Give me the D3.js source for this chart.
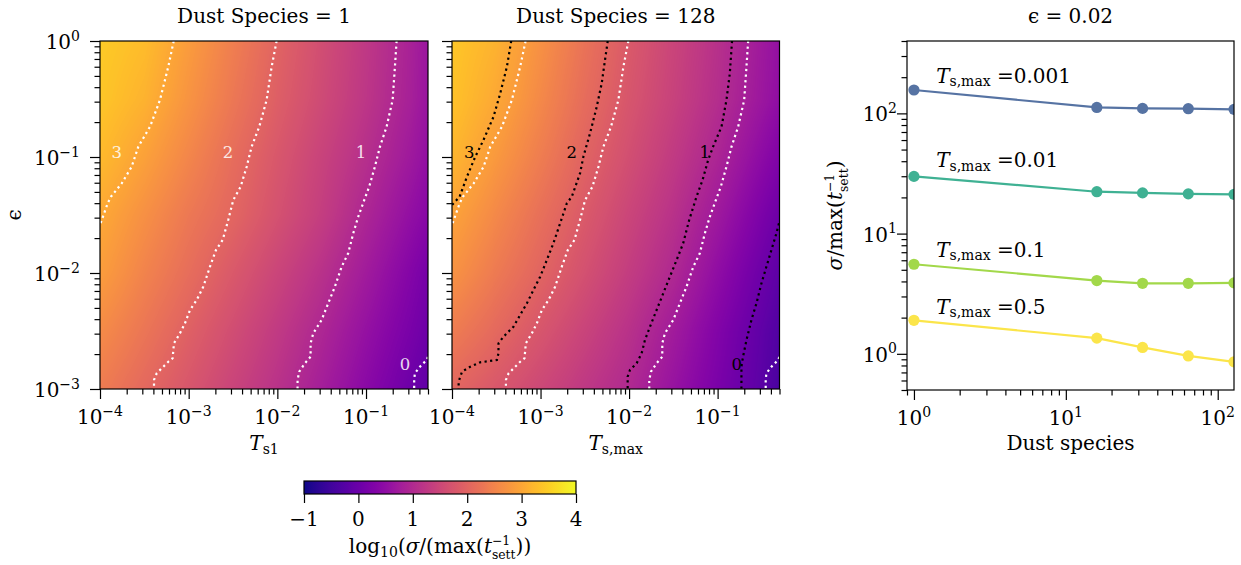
<!DOCTYPE html>
<html><head><meta charset="utf-8">
<script src="https://cdn.jsdelivr.net/npm/d3@7"></script>
<style>
body{margin:0;background:#fff}
svg{display:block}
text{font-family:"DejaVu Serif","Liberation Serif",serif;fill:#000;white-space:pre}
</style>
</head><body>
<svg id="c" width="1241" height="565"></svg>
<script>
// ---------------- DATA ----------------
// heat-map grid (log10 of T_s and of epsilon)
const tsExp  = [-4, -3.5, -3, -2.5, -2, -1.5, -1, -0.5, -0.3];
const epsExp = [0, -0.5, -1, -1.5, -2, -2.5, -3];
// log10(sigma / max(1/t_sett)), Dust Species = 1  (rows follow epsExp)
const grid1 = [
  [3.45, 3.28, 2.85, 2.42, 1.99, 1.62, 1.25, 0.86, 0.65],
  [3.40, 3.15, 2.73, 2.31, 1.91, 1.56, 1.21, 0.83, 0.62],
  [3.25, 2.92, 2.53, 2.14, 1.78, 1.43, 1.09, 0.71, 0.52],
  [3.03, 2.68, 2.32, 2.03, 1.68, 1.34, 0.93, 0.53, 0.38],
  [2.87, 2.49, 2.15, 1.81, 1.47, 1.13, 0.74, 0.33, 0.15],
  [2.61, 2.28, 1.94, 1.61, 1.28, 0.94, 0.56, 0.19, 0.03],
  [2.38, 2.07, 1.76, 1.45, 1.14, 0.79, 0.41, 0.03, -0.12]
];
// Dust Species = 128
const grid2 = [
  [3.40, 3.15, 2.70, 2.24, 1.83, 1.47, 1.12, 0.72, 0.55],
  [3.35, 3.02, 2.58, 2.14, 1.76, 1.42, 1.07, 0.67, 0.50],
  [3.20, 2.81, 2.40, 1.99, 1.64, 1.29, 0.92, 0.46, 0.28],
  [2.95, 2.57, 2.19, 1.83, 1.48, 1.14, 0.71, 0.23, 0.04],
  [2.72, 2.35, 2.01, 1.67, 1.33, 0.98, 0.50, 0.03, -0.16],
  [2.39, 2.08, 1.76, 1.45, 1.14, 0.75, 0.31, -0.13, -0.31],
  [2.04, 1.78, 1.52, 1.25, 0.99, 0.60, 0.21, -0.19, -0.40]
];
// contour lines: [log10 T, log10 eps]
const cont1 = {
  "3": [[-3.169,0],[-3.23,-0.222],[-3.324,-0.509],[-3.436,-0.739],[-3.568,-0.911],[-3.643,-1.084],[-3.755,-1.227],[-3.876,-1.342],[-3.913,-1.399],[-4.0,-1.586]],
  "2": [[-2.008,0],[-2.064,-0.222],[-2.121,-0.509],[-2.204,-0.739],[-2.29,-0.911],[-2.346,-1.084],[-2.414,-1.256],[-2.497,-1.371],[-2.554,-1.543],[-2.617,-1.716],[-2.692,-1.802],[-2.76,-1.946],[-2.835,-2.118],[-2.91,-2.233],[-2.985,-2.319],[-3.042,-2.434],[-3.098,-2.52],[-3.166,-2.606],[-3.181,-2.735],[-3.23,-2.765],[-3.286,-2.808],[-3.361,-2.865],[-3.391,-2.922],[-3.391,-3.0]],
  "1": [[-0.655,0],[-0.674,-0.222],[-0.7,-0.509],[-0.768,-0.739],[-0.843,-0.911],[-0.9,-1.084],[-0.964,-1.256],[-1.02,-1.371],[-1.088,-1.515],[-1.144,-1.658],[-1.201,-1.83],[-1.275,-1.946],[-1.351,-2.118],[-1.426,-2.261],[-1.501,-2.405],[-1.595,-2.52],[-1.625,-2.606],[-1.625,-2.722],[-1.689,-2.778],[-1.753,-2.851],[-1.772,-2.922],[-1.772,-3.0]],
  "0": [[-0.302,-2.724],[-0.317,-2.75],[-0.392,-2.808],[-0.449,-2.865],[-0.457,-2.922],[-0.457,-3.0]]
};
const cont2 = {
  "3": [[-3.331,0],[-3.38,-0.222],[-3.455,-0.451],[-3.531,-0.653],[-3.644,-0.853],[-3.737,-0.997],[-3.831,-1.17],[-3.914,-1.342],[-4.0,-1.414]],
  "2": [[-2.241,0],[-2.272,-0.164],[-2.309,-0.365],[-2.365,-0.566],[-2.441,-0.796],[-2.516,-0.997],[-2.554,-1.141],[-2.647,-1.342],[-2.703,-1.399],[-2.779,-1.572],[-2.855,-1.744],[-2.929,-1.888],[-3.004,-2.032],[-3.08,-2.147],[-3.154,-2.261],[-3.23,-2.362],[-3.306,-2.463],[-3.418,-2.549],[-3.475,-2.606],[-3.475,-2.692],[-3.493,-2.75],[-3.681,-2.77],[-3.794,-2.808],[-3.887,-2.851],[-3.925,-2.937],[-3.925,-3.0]],
  "1": [[-0.837,0],[-0.862,-0.278],[-0.9,-0.509],[-0.956,-0.739],[-1.051,-0.911],[-1.107,-1.026],[-1.17,-1.198],[-1.238,-1.342],[-1.321,-1.543],[-1.389,-1.744],[-1.463,-1.888],[-1.539,-2.032],[-1.614,-2.175],[-1.689,-2.319],[-1.764,-2.463],[-1.821,-2.578],[-1.858,-2.692],[-1.914,-2.778],[-1.99,-2.836],[-2.016,-2.894],[-2.016,-3.0]],
  "0": [[-0.307,-1.572],[-0.336,-1.658],[-0.392,-1.802],[-0.449,-1.946],[-0.505,-2.089],[-0.561,-2.261],[-0.618,-2.405],[-0.674,-2.578],[-0.713,-2.722],[-0.731,-2.808],[-0.731,-3.0]]
};
// contour label anchors [text, log10 T, log10 eps]
const labels1 = [["3",-3.81,-0.96],["2",-2.557,-0.96],["1",-1.057,-0.96],["0",-0.561,-2.79]];
const labels2 = [["3",-3.805,-0.96],["2",-2.647,-0.96],["1",-1.144,-0.96],["0",-0.784,-2.79]];

const panelTitles = ["Dust Species = 1", "Dust Species = 128"];
const cbarTicks = [-1, 0, 1, 2, 3, 4];
const cbarDomain = [-1, 4];

// right panel
const dustSpecies = [1, 16, 32, 64, 128];
const tsMaxLabels = ["0.001", "0.01", "0.1", "0.5"];
const sigmaTs0001 = [156.5, 112, 110, 109.4, 108];
const sigmaTs001  = [29.9, 22.3, 21.8, 21.4, 21.2];
const sigmaTs01   = [5.56, 4.07, 3.86, 3.86, 3.89];
const sigmaTs05   = [1.90, 1.35, 1.13, 0.96, 0.858];
const seriesColors = ["#5673a3", "#3fb193", "#a2d84a", "#fbe54a"];
const labelAnchorX = 1.4;
const labelAnchorY = [180, 35.6, 6.44, 2.15];

// ---------------- DRAWING ----------------
const svg = d3.select("#c");
const FS = 20;

function rich(g, segs, o) {
  const size = o.size || FS;
  const wrap = g.append("g").attr("transform", `translate(${o.x},${o.y})` + (o.rotate ? ` rotate(${o.rotate})` : ""));
  const txt = wrap.append("text").attr("font-size", size).attr("x", 0).attr("y", 0);
  if (o.fill) txt.style("fill", o.fill);
  if (o.opacity != null) txt.attr("opacity", o.opacity);
  let cur = 0, pend = 0;
  const sShift = { base: 0, sup: -0.42 * size, sub: 0.18 * size, ssup: -0.40 * size, ssub: 0.32 * size };
  function add(s, pos, it, dx, sc) {
    const t = sShift[pos];
    const ts = txt.append("tspan").attr("dy", t - cur).text(s);
    cur = t;
    if (pos !== "base") ts.attr("font-size", size * (sc || 0.7));
    if (it) ts.attr("font-style", "italic");
    if (dx) ts.attr("dx", dx);
    return ts;
  }
  segs.forEach(sg => {
    if (sg.stack) {
      const a = add(sg.stack[0], "ssup", false, pend, 0.62); pend = 0;
      const la = a.node().getComputedTextLength();
      const b = add(sg.stack[1], "ssub", false, -la, 0.62);
      const lb = b.node().getComputedTextLength();
      if (la > lb) pend = la - lb;
    } else {
      add(sg.t, sg.pos || "base", sg.i, pend); pend = 0;
    }
  });
  const bb = txt.node().getBBox();
  let sx = 0, sy = 0;
  if (o.anchor === "middle") sx = -(bb.x + bb.width / 2);
  else if (o.anchor === "end") sx = -(bb.x + bb.width);
  else sx = -bb.x;
  if (o.vcenter) sy = -(bb.y + bb.height / 2);
  txt.attr("transform", `translate(${sx},${sy})`);
  return wrap;
}

const expStr = v => { const e = Math.round(Math.log10(v)); return e < 0 ? "\u2212" + (-e) : "" + e; };
const isMaj = v => Math.abs(Math.log10(v) - Math.round(Math.log10(v))) < 1e-6;

function logAxes(g, x, y, P, o) {
  const inX = v => v >= x.domain()[0] * 0.999 && v <= x.domain()[1] * 1.001;
  const inY = v => v >= y.domain()[0] * 0.999 && v <= y.domain()[1] * 1.001;
  const xt = x.ticks().filter(inX), yt = y.ticks().filter(inY);
  const style = s => { s.select(".domain").remove(); s.selectAll("line").attr("stroke", "#000").attr("stroke-width", 1.2); };
  g.append("g").attr("transform", `translate(0,${P.y1})`).call(d3.axisBottom(x).tickValues(xt.filter(v => !isMaj(v))).tickSize(5.5).tickFormat("")).call(style);
  g.append("g").attr("transform", `translate(0,${P.y1})`).call(d3.axisBottom(x).tickValues(xt.filter(isMaj)).tickSize(10).tickFormat("")).call(style);
  g.append("g").attr("transform", `translate(${P.x0},0)`).call(d3.axisLeft(y).tickValues(yt.filter(v => !isMaj(v))).tickSize(5.5).tickFormat("")).call(style);
  g.append("g").attr("transform", `translate(${P.x0},0)`).call(d3.axisLeft(y).tickValues(yt.filter(isMaj)).tickSize(10).tickFormat("")).call(style);
  xt.filter(isMaj).forEach(v => rich(g, [{ t: "10" }, { t: expStr(v), pos: "sup" }], { x: x(v), y: P.y1 + 35, anchor: "middle" }));
  if (o.yLabels) yt.filter(isMaj).forEach(v => rich(g, [{ t: "10" }, { t: expStr(v), pos: "sup" }], { x: P.x0 - o.yPad, y: y(v) + 8, anchor: "end" }));
  g.append("rect").attr("x", P.x0).attr("y", P.y0).attr("width", P.x1 - P.x0).attr("height", P.y1 - P.y0)
    .attr("fill", "none").attr("stroke", "#000").attr("stroke-width", 1.2);
}

const color = d3.scaleSequential(d3.interpolatePlasma).domain(cbarDomain);

function interpGrid(grid, lt, le) {
  let i = 0; while (i < tsExp.length - 2 && lt > tsExp[i + 1]) i++;
  let j = 0; while (j < epsExp.length - 2 && le < epsExp[j + 1]) j++;
  let fx = (lt - tsExp[i]) / (tsExp[i + 1] - tsExp[i]);
  let fy = (le - epsExp[j]) / (epsExp[j + 1] - epsExp[j]);
  fx = Math.max(0, Math.min(1, fx)); fy = Math.max(0, Math.min(1, fy));
  const a = grid[j][i], b = grid[j][i + 1], c = grid[j + 1][i], d = grid[j + 1][i + 1];
  return (a * (1 - fx) + b * fx) * (1 - fy) + (c * (1 - fx) + d * fx) * fy;
}

const defs = svg.append("defs");

function heatPanel(P, grid, id, title, contours, extra) {
  const g = svg.append("g");
  const x = d3.scaleLog().domain([1e-4, 0.5]).range([P.x0, P.x1]);
  const y = d3.scaleLog().domain([1e-3, 1]).range([P.y1, P.y0]);
  const w = Math.round(P.x1 - P.x0), h = Math.round(P.y1 - P.y0);
  const cv = document.createElement("canvas"); cv.width = w; cv.height = h;
  const ctx = cv.getContext("2d"); const img = ctx.createImageData(w, h);
  for (let jj = 0; jj < h; jj++) {
    const le = Math.log10(y.invert(P.y0 + jj + 0.5));
    for (let ii = 0; ii < w; ii++) {
      const lt = Math.log10(x.invert(P.x0 + ii + 0.5));
      const c = d3.rgb(color(interpGrid(grid, lt, le)));
      const k = (jj * w + ii) * 4;
      img.data[k] = c.r; img.data[k + 1] = c.g; img.data[k + 2] = c.b; img.data[k + 3] = 255;
    }
  }
  ctx.putImageData(img, 0, 0);
  g.append("image").attr("href", cv.toDataURL()).attr("x", P.x0).attr("y", P.y0).attr("width", P.x1 - P.x0).attr("height", P.y1 - P.y0).attr("preserveAspectRatio", "none");
  defs.append("clipPath").attr("id", id).append("rect").attr("x", P.x0).attr("y", P.y0).attr("width", P.x1 - P.x0).attr("height", P.y1 - P.y0);
  const cg = g.append("g").attr("clip-path", `url(#${id})`);
  const line = d3.line().x(d => x(Math.pow(10, d[0]))).y(d => y(Math.pow(10, d[1])));
  contours.forEach(set => {
    Object.keys(set.data).forEach(k => {
      cg.append("path").attr("d", line(set.data[k])).attr("fill", "none").attr("stroke", set.color)
        .attr("stroke-width", 2.2).attr("stroke-dasharray", "2.2,3.4");
    });
  });
  extra.labels.forEach(l => {
    g.append("text").attr("x", x(Math.pow(10, l[1]))).attr("y", y(Math.pow(10, l[2]))).attr("text-anchor", "middle")
      .attr("dominant-baseline", "central").attr("font-size", 16.5).style("fill", extra.labelColor).attr("opacity", extra.labelOpacity).text(l[0]);
  });
  logAxes(g, x, y, P, { yLabels: extra.yLabels, yPad: 20 });
  g.append("text").attr("x", (P.x0 + P.x1) / 2).attr("y", 23).attr("text-anchor", "middle").attr("font-size", FS).text(title);
  rich(g, extra.xlabel, { x: (P.x0 + P.x1) / 2, y: 450, anchor: "middle" });
}

const P1 = { x0: 100, x1: 428, y0: 41, y1: 389 };
const P2 = { x0: 452, x1: 779.5, y0: 41, y1: 389 };
const P3 = { x0: 907, x1: 1234, y0: 41, y1: 390 };

heatPanel(P1, grid1, "clip1", panelTitles[0], [{ data: cont1, color: "#fff" }],
  { labels: labels1, labelColor: "#fff", labelOpacity: 0.85, yLabels: true, xlabel: [{ t: "T", i: true }, { t: "s1", pos: "sub" }] });
heatPanel(P2, grid2, "clip2", panelTitles[1], [{ data: cont2, color: "#000" }, { data: cont1, color: "#fff" }],
  { labels: labels2, labelColor: "#000", labelOpacity: 1, yLabels: false, xlabel: [{ t: "T", i: true }, { t: "s,max", pos: "sub" }] });

// y label of left panel
rich(svg, [{ t: "\u03f5" }], { x: 21, y: 215, anchor: "middle", rotate: -90 });

// ---- colorbar ----
const CB = { x0: 304, x1: 576, y0: 481, y1: 494 };
const cx = d3.scaleLinear().domain(cbarDomain).range([CB.x0, CB.x1]);
const grad = defs.append("linearGradient").attr("id", "cbg").attr("x1", "0%").attr("x2", "100%");
d3.range(0, 1.0001, 0.02).forEach(t => grad.append("stop").attr("offset", (t * 100) + "%").attr("stop-color", color(cbarDomain[0] + t * (cbarDomain[1] - cbarDomain[0]))));
svg.append("rect").attr("x", CB.x0).attr("y", CB.y0).attr("width", CB.x1 - CB.x0).attr("height", CB.y1 - CB.y0).attr("fill", "url(#cbg)").attr("stroke", "#000").attr("stroke-width", 1.2);
svg.append("g").attr("transform", `translate(0,${CB.y1})`).call(d3.axisBottom(cx).tickValues(cbarTicks).tickSize(9).tickFormat(""))
  .call(s => { s.select(".domain").remove(); s.selectAll("line").attr("stroke", "#000").attr("stroke-width", 1.2); });
cbarTicks.forEach(v => rich(svg, [{ t: v < 0 ? "\u2212" + (-v) : "" + v }], { x: cx(v), y: 526, anchor: "middle" }));
rich(svg, [{ t: "log" }, { t: "10", pos: "sub" }, { t: "(" }, { t: "\u03c3", i: true }, { t: "/(max(" }, { t: "t", i: true }, { stack: ["\u22121", "sett"] }, { t: "))" }],
  { x: (CB.x0 + CB.x1) / 2, y: 553, anchor: "middle" });

// ---- right panel ----
const g3 = svg.append("g");
const x3 = d3.scaleLog().domain([0.9, 128]).range([P3.x0, P3.x1]);
const y3 = d3.scaleLog().domain([0.5, 400]).range([P3.y1, P3.y0]);
defs.append("clipPath").attr("id", "clip3").append("rect").attr("x", P3.x0).attr("y", P3.y0).attr("width", P3.x1 - P3.x0).attr("height", P3.y1 - P3.y0);
const series = [sigmaTs0001, sigmaTs001, sigmaTs01, sigmaTs05];
const pg = g3.append("g").attr("clip-path", "url(#clip3)");
const line3 = d3.line().x((d, i) => x3(dustSpecies[i])).y(d => y3(d));
series.forEach((s, k) => {
  pg.append("path").attr("d", line3(s)).attr("fill", "none").attr("stroke", seriesColors[k]).attr("stroke-width", 2.2);
  pg.selectAll(null).data(s).enter().append("circle").attr("cx", (d, i) => x3(dustSpecies[i])).attr("cy", d => y3(d)).attr("r", 5.6)
    .attr("fill", seriesColors[k]);
  rich(g3, [{ t: "T", i: true }, { t: "s,max", pos: "sub" }, { t: " =" + tsMaxLabels[k] }], { x: x3(labelAnchorX), y: y3(labelAnchorY[k]), anchor: "start" });
});
logAxes(g3, x3, y3, P3, { yLabels: true, yPad: 10 });
rich(g3, [{ t: "\u03f5" }, { t: " = 0.02" }], { x: (P3.x0 + P3.x1) / 2, y: 23, anchor: "middle" });
rich(g3, [{ t: "Dust species" }], { x: (P3.x0 + P3.x1) / 2, y: 450, anchor: "middle" });
rich(g3, [{ t: "\u03c3", i: true }, { t: "/max(" }, { t: "t", i: true }, { stack: ["\u22121", "sett"] }, { t: ")" }],
  { x: 842, y: (P3.y0 + P3.y1) / 2, anchor: "middle", rotate: -90 });
</script>
</body></html>
